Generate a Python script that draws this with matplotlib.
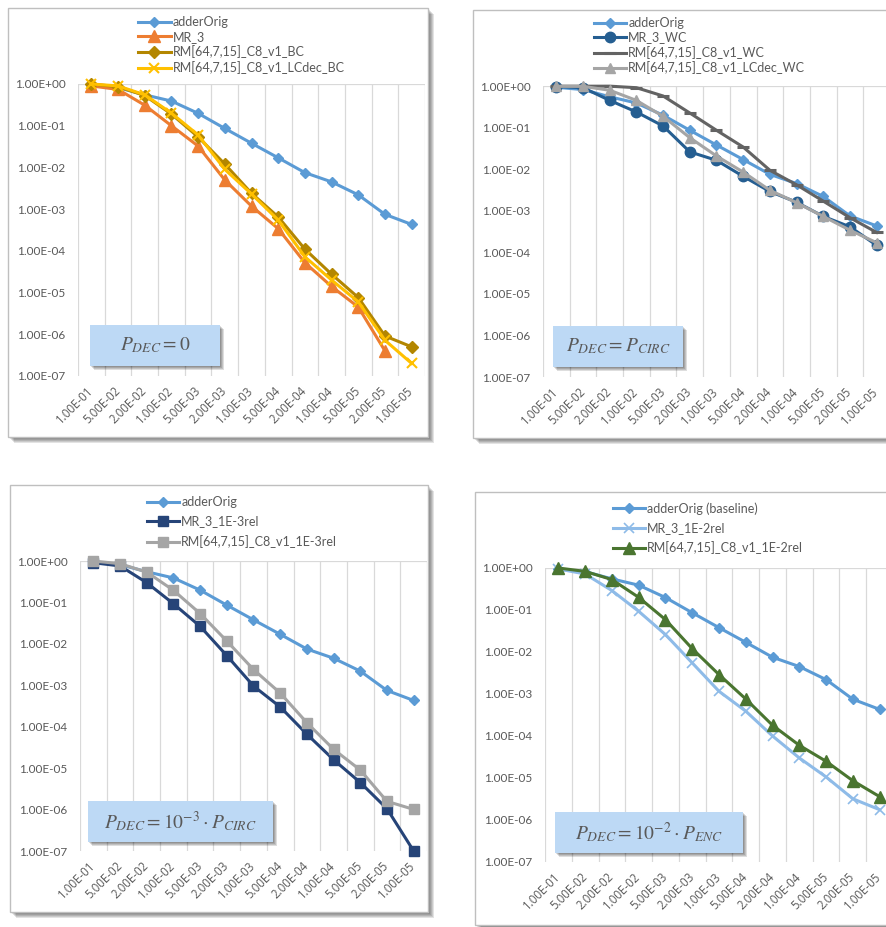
import numpy as np
import matplotlib
matplotlib.use("Agg")
import matplotlib.pyplot as plt
from matplotlib.patches import Rectangle
from matplotlib.ticker import NullLocator

# ---------------------------------------------------------------- data
categories = ["1.00E-01", "5.00E-02", "2.00E-02", "1.00E-02", "5.00E-03",
              "2.00E-03", "1.00E-03", "5.00E-04", "2.00E-04", "1.00E-04",
              "5.00E-05", "2.00E-05", "1.00E-05"]
y_ticks = [1e0, 1e-1, 1e-2, 1e-3, 1e-4, 1e-5, 1e-6, 1e-7]

adder_orig = [0.93, 0.82, 0.55, 0.39, 0.198, 0.086, 0.038, 0.017, 0.0075,
              0.0045, 0.0022, 0.00075, 0.00043]

# P_DEC = 0
mr3_bc = [0.90, 0.74, 0.31, 0.10, 0.0325, 0.0050, 0.00118, 0.00034, 5.2e-5,
          1.4e-5, 4.5e-6, 4.0e-7, np.nan]
rm_bc = [1.0, 0.86, 0.53, 0.19, 0.054, 0.012, 0.0024, 0.00065, 1.1e-4,
         2.75e-5, 7.6e-6, 9.1e-7, 5.0e-7]
rm_lcdec_bc = [1.0, 0.90, 0.55, 0.20, 0.060, 0.009, 0.0023, 0.00055, 7.2e-5,
               2.0e-5, 6.0e-6, 7.2e-7, 2.0e-7]

# P_DEC = P_CIRC
mr3_wc = [0.97, 0.91, 0.45, 0.237, 0.109, 0.026, 0.0163, 0.0067, 0.0029,
          0.0016, 0.00073, 0.00041, 0.000147]
rm_wc = [0.99, 0.99, 0.99, 0.91, 0.575, 0.224, 0.086, 0.034, 0.0094,
         0.0042, 0.0017, 0.00068, 0.00030]
rm_lcdec_wc = [0.98, 0.98, 0.79, 0.45, 0.186, 0.057, 0.0207, 0.0085, 0.0031,
               0.00156, 0.00073, 0.00034, 0.00017]

# P_DEC = 1e-3 * P_CIRC
mr3_1e3 = [0.91, 0.76, 0.30, 0.093, 0.0265, 0.0052, 0.00096, 0.00030, 6.6e-5,
           1.6e-5, 4.5e-6, 1.05e-6, 1.0e-7]
rm_1e3 = [1.0, 0.86, 0.54, 0.196, 0.054, 0.0117, 0.0024, 0.00065, 1.25e-4,
          2.85e-5, 9.0e-6, 1.58e-6, 1.01e-6]

# P_DEC = 1e-2 * P_ENC
mr3_1e2 = [0.95, 0.72, 0.29, 0.093, 0.026, 0.0055, 0.00116, 0.00039, 1.0e-4,
           3.0e-5, 1.06e-5, 3.2e-6, 1.76e-6]
rm_1e2 = [1.0, 0.83, 0.53, 0.20, 0.059, 0.012, 0.0029, 0.00076, 1.8e-4,
          6.0e-5, 2.5e-5, 8.6e-6, 3.6e-6]

# ---------------------------------------------------------------- style
W, H = 887, 927
plt.rcParams["font.family"] = ["Lato", "DejaVu Sans"]
plt.rcParams["mathtext.fontset"] = "stix"
TXT = "#595959"
GRID = "#D9D9D9"

fig = plt.figure(figsize=(W / 100, H / 100), dpi=100)
fig.patch.set_facecolor("white")


def box_px(x0, y0, x1, y1):
    """Figure-fraction rectangle from pixel corners (origin top-left)."""
    return x0 / W, 1 - y1 / H, (x1 - x0) / W, (y1 - y0) / H


def shadowed_rect(x0, y0, x1, y1, face, edge, zorder, depth=6, alpha=0.11):
    for d in range(depth, 0, -1):
        l, b, w, h = box_px(x0 + d, y0 + d, x1 + d, y1 + d)
        fig.add_artist(Rectangle((l, b), w, h, transform=fig.transFigure,
                                 facecolor="black", edgecolor="none",
                                 alpha=alpha, zorder=zorder))
    l, b, w, h = box_px(x0, y0, x1, y1)
    fig.add_artist(Rectangle((l, b), w, h, transform=fig.transFigure,
                             facecolor=face, edgecolor=edge, lw=1.0,
                             zorder=zorder + 0.1))


def panel(frame, plot, series, legend_pos, legend_gap, label, label_box):
    shadowed_rect(*frame, face="white", edge="#BFBFBF", zorder=-5)

    ax = fig.add_axes(box_px(*plot))
    ax.set_zorder(1)
    ax.patch.set_alpha(0)
    ax.set_yscale("log")
    ax.set_ylim(1e-7, 1.0)
    ax.set_xlim(-0.5, len(categories) - 0.5)
    x = np.arange(len(categories))

    ax.set_yticks(y_ticks)
    ax.set_yticklabels(["%.2E" % v for v in y_ticks])
    ax.yaxis.set_minor_locator(NullLocator())
    ax.set_xticks(x)
    ax.set_xticklabels(categories, rotation=45, ha="right", va="center",
                       rotation_mode="anchor", family=["Open Sans"],
                       fontsize=8.3)
    ax.set_xticks(np.arange(len(categories) + 1) - 0.5, minor=True)
    ax.tick_params(axis="both", which="both", length=0, colors=TXT)
    ax.tick_params(axis="y", labelsize=8.5, pad=9)
    ax.tick_params(axis="x", pad=9)
    ax.grid(which="minor", axis="x", color=GRID, lw=0.9)
    ax.axhline(1.0, color=GRID, lw=0.9, zorder=0.5)
    for s in ax.spines.values():
        s.set_visible(False)

    for vals, name, kw in series:
        ax.plot(x, vals, label=name, lw=2.2, clip_on=False, **kw)

    ax.legend(loc="upper left", bbox_to_anchor=(legend_pos[0] / W,
                                                1 - legend_pos[1] / H),
              bbox_transform=fig.transFigure, frameon=False, fontsize=9,
              borderpad=0, borderaxespad=0, handlelength=2.6,
              handletextpad=0.15, labelspacing=legend_gap,
              labelcolor=TXT)

    shadowed_rect(*label_box, face="#BDD9F5", edge="none", zorder=5,
                  depth=4, alpha=0.13)
    cx = (label_box[0] + label_box[2]) / 2 / W
    cy = 1 - (label_box[1] + label_box[3]) / 2 / H
    fig.text(cx, cy, label, ha="center", va="center", fontsize=14,
             color=TXT, zorder=6)
    return ax


BLUE = "#5B9BD5"

panel(frame=(8, 8, 428, 437), plot=(78, 84, 425, 376),
      series=[
          (adder_orig, "adderOrig", dict(color=BLUE, marker="D", ms=5.5)),
          (mr3_bc, "MR_3", dict(color="#ED7D31", marker="^", ms=8)),
          (rm_bc, "RM[64,7,15]_C8_v1_BC",
           dict(color="#B38600", marker="D", ms=6)),
          (rm_lcdec_bc, "RM[64,7,15]_C8_v1_LCdec_BC",
           dict(color="#FFC000", marker="x", ms=7, mew=1.5)),
      ],
      legend_pos=(138, 16), legend_gap=0.22,
      label=r"$P_{DEC}=0$", label_box=(90, 325, 220, 366))

panel(frame=(473, 10, 900, 438), plot=(543, 86, 890, 377),
      series=[
          (adder_orig, "adderOrig", dict(color=BLUE, marker="D", ms=5.5)),
          (mr3_wc, "MR_3_WC", dict(color="#255E91", marker="o", ms=7.5)),
          (rm_wc, "RM[64,7,15]_C8_v1_WC",
           dict(color="#636363", marker="_", ms=8, mew=2.2)),
          (rm_lcdec_wc, "RM[64,7,15]_C8_v1_LCdec_WC",
           dict(color="#A5A5A5", marker="^", ms=7.5)),
      ],
      legend_pos=(594, 17), legend_gap=0.2,
      label=r"$P_{DEC}=P_{CIRC}$", label_box=(553, 326, 683, 367))

panel(frame=(10, 485, 428, 912), plot=(80, 561, 427, 851),
      series=[
          (adder_orig, "adderOrig", dict(color=BLUE, marker="D", ms=5.5)),
          (mr3_1e3, "MR_3_1E-3rel", dict(color="#264478", marker="s", ms=7.5)),
          (rm_1e3, "RM[64,7,15]_C8_v1_1E-3rel",
           dict(color="#A5A5A5", marker="s", ms=7.5)),
      ],
      legend_pos=(147, 496), legend_gap=0.6,
      label=r"$P_{DEC}=10^{-3}\cdot P_{CIRC}$", label_box=(88, 801, 273, 842))

panel(frame=(475, 492, 900, 925), plot=(545, 568, 893, 862),
      series=[
          (adder_orig, "adderOrig (baseline)",
           dict(color=BLUE, marker="D", ms=5.5)),
          (mr3_1e2, "MR_3_1E-2rel",
           dict(color="#8EBBE8", marker="x", ms=7, mew=1.2)),
          (rm_1e2, "RM[64,7,15]_C8_v1_1E-2rel",
           dict(color="#4A7530", marker="^", ms=8)),
      ],
      legend_pos=(613, 502), legend_gap=0.6,
      label=r"$P_{DEC}=10^{-2}\cdot P_{ENC}$", label_box=(555, 812, 743, 853))

fig.savefig("out.png", dpi=100, facecolor="white")
